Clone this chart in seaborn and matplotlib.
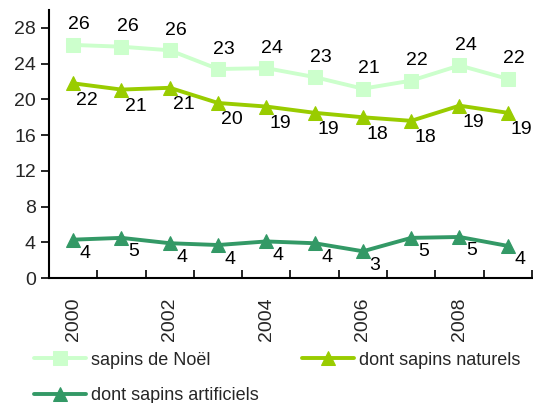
import numpy as np
import pandas as pd
import matplotlib
matplotlib.use("Agg")
import matplotlib.pyplot as plt
import seaborn as sns
from matplotlib.ticker import FixedLocator

years = [2000, 2001, 2002, 2003, 2004, 2005, 2006, 2007, 2008, 2009]
sapins_noel = [26.1, 25.9, 25.5, 23.4, 23.5, 22.5, 21.2, 22.1, 23.8, 22.3]
sapins_naturels = [21.8, 21.1, 21.3, 19.6, 19.2, 18.5, 18.0, 17.6, 19.3, 18.5]
sapins_artificiels = [4.3, 4.5, 3.9, 3.7, 4.1, 3.9, 3.0, 4.5, 4.6, 3.6]
tick_years = ["2000", "2002", "2004", "2006", "2008"]

names = ["sapins de Noël", "dont sapins naturels", "dont sapins artificiels"]
colors = ["#CCFFCC", "#99CC00", "#339966"]
markers = ["s", "^", "^"]
label_offsets = [(6, 20), (14, -17), (12, -14)]  # pixel offsets (x, y)

sns.set_theme(style="white")
plt.rcParams["font.family"] = ["Liberation Sans", "DejaVu Sans"]

fig = plt.figure(figsize=(5.33, 4.03), dpi=100)
ax = fig.add_axes([0.092, 0.31, 0.906, 0.665])

x = np.arange(len(years))
df = pd.DataFrame({
    "x": np.tile(x, 3),
    "value": sapins_noel + sapins_naturels + sapins_artificiels,
    "serie": np.repeat(names, len(years)),
})

for name, col, mk in zip(names, colors, markers):
    sub = df[df["serie"] == name]
    sns.lineplot(data=sub, x="x", y="value", ax=ax, color=col, marker=mk,
                 markersize=10.5, markeredgecolor=col,
                 linewidth=2.8, label=name, legend=False)

for series, (dx, dy) in zip([sapins_noel, sapins_naturels, sapins_artificiels], label_offsets):
    for xi, v in zip(x, series):
        ax.annotate(str(int(np.floor(v + 0.5))), (xi, v), xytext=(dx, dy),
                    textcoords="offset pixels", ha="center", va="center",
                    fontsize=14, color="black")

ax.set_xlim(-0.5, 9.5)
ax.set_ylim(0, 30)
ax.set_yticks(np.arange(0, 29, 4))
ax.set_xticks([0, 2, 4, 6, 8])
ax.set_xticklabels(tick_years, rotation=90)
ax.xaxis.set_minor_locator(FixedLocator(np.arange(-0.5, 10, 1)))
ax.tick_params(axis="x", which="major", length=0, labelsize=14, pad=14)
ax.tick_params(axis="x", which="minor", direction="in", length=6, width=1.2, color="black", bottom=True)
ax.tick_params(axis="y", which="major", direction="out", length=6, width=1.2, color="black", labelsize=14, left=True)
ax.set_xlabel("")
ax.set_ylabel("")
for s in ["top", "right"]:
    ax.spines[s].set_visible(False)
for s in ["left", "bottom"]:
    ax.spines[s].set_color("black")
    ax.spines[s].set_linewidth(1.5)

handles, labels = ax.get_legend_handles_labels()
order = [0, 2, 1]
fig.legend([handles[i] for i in order], [labels[i] for i in order],
           loc="upper left", bbox_to_anchor=(0.05, 0.145), ncol=2,
           frameon=False, fontsize=13, handlelength=2.9, columnspacing=2.4,
           handletextpad=0.25, borderaxespad=0, labelspacing=1.0)

fig.savefig("out.png", dpi=100)
